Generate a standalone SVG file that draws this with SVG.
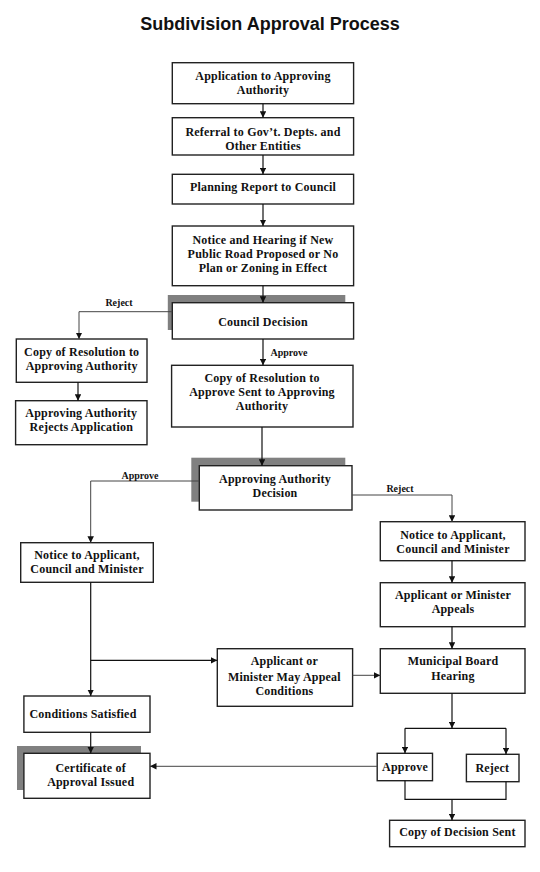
<svg xmlns="http://www.w3.org/2000/svg" width="540" height="872" viewBox="0 0 540 872">
<defs>
<marker id="ah" viewBox="0 0 10 10" refX="10" refY="5" markerWidth="6.5" markerHeight="6.5" markerUnits="userSpaceOnUse" orient="auto">
<path d="M0,0 L10,5 L0,10 z" fill="#111"/>
</marker>
<style>
.box{fill:#fff;stroke:#222;stroke-width:1.4}
.sh{fill:#808080;stroke:none}
.t{font-family:"Liberation Serif","Times New Roman",serif;font-weight:bold;font-size:12px;letter-spacing:0.2px;fill:#111;text-anchor:middle}
.lb{font-family:"Liberation Serif","Times New Roman",serif;font-weight:bold;font-size:10px;fill:#111;text-anchor:middle}
.c{fill:none;stroke:#111;stroke-width:1.2}
.d{fill:none;stroke:#444;stroke-width:1}
.title{font-family:"Liberation Sans",Arial,sans-serif;font-weight:bold;font-size:18px;fill:#111;text-anchor:middle}
</style>
</defs>
<rect width="540" height="872" fill="#fff"/>
<text class="title" x="270" y="30">Subdivision Approval Process</text>

<g id="n1"><rect class="box" x="172.3" y="62.7" width="181.3" height="41"/>
<text class="t" x="263" y="80">Application to Approving</text><text class="t" x="263" y="93.5">Authority</text></g>
<g id="n2"><rect class="box" x="172.3" y="117.7" width="181.3" height="37.3"/>
<text class="t" x="263" y="135.5">Referral to Gov’t. Depts. and</text><text class="t" x="263" y="149.5">Other Entities</text></g>
<g id="n3"><rect class="box" x="172.3" y="174.3" width="181.3" height="29.7"/>
<text class="t" x="263" y="190.5">Planning Report to Council</text></g>
<g id="n4"><rect class="box" x="172.3" y="226" width="181.3" height="59.7"/>
<text class="t" x="263" y="243.5">Notice and Hearing if New</text><text class="t" x="263" y="258">Public Road Proposed or No</text><text class="t" x="263" y="272">Plan or Zoning in Effect</text></g>
<g id="n5"><rect class="sh" x="167.8" y="295" width="177.5" height="35"/><rect class="box" x="172.3" y="302.7" width="181.3" height="36.3"/>
<text class="t" x="263" y="326">Council Decision</text></g>
<g id="n6"><rect class="box" x="16.3" y="339" width="130.7" height="43.3"/>
<text class="t" x="81.7" y="355.5">Copy of Resolution to</text><text class="t" x="81.7" y="369.5">Approving Authority</text></g>
<g id="n7"><rect class="box" x="15.6" y="400.7" width="131.4" height="44"/>
<text class="t" x="81.3" y="417">Approving Authority</text><text class="t" x="81.3" y="431">Rejects Application</text></g>
<g id="n8"><rect class="box" x="171.6" y="365.3" width="181.4" height="61.7"/>
<text class="t" x="262" y="382">Copy of Resolution to</text><text class="t" x="262" y="396">Approve Sent to Approving</text><text class="t" x="262" y="410">Authority</text></g>
<g id="n9"><rect class="sh" x="191.3" y="457.7" width="154" height="44"/><rect class="box" x="199.3" y="465.7" width="152.7" height="44.3"/>
<text class="t" x="275" y="483">Approving Authority</text><text class="t" x="275" y="496.5">Decision</text></g>
<g id="n10"><rect class="box" x="380.3" y="521.7" width="144.7" height="39"/>
<text class="t" x="453" y="538.5">Notice to Applicant,</text><text class="t" x="453" y="552.5">Council and Minister</text></g>
<g id="n11"><rect class="box" x="20.7" y="542.7" width="132.6" height="39.6"/>
<text class="t" x="87" y="559">Notice to Applicant,</text><text class="t" x="87" y="573">Council and Minister</text></g>
<g id="n12"><rect class="box" x="380.3" y="582.7" width="144.7" height="44"/>
<text class="t" x="453" y="599">Applicant or Minister</text><text class="t" x="453" y="613">Appeals</text></g>
<g id="n13"><rect class="box" x="217.3" y="648.7" width="135.3" height="57.6"/>
<text class="t" x="284.4" y="665">Applicant or</text><text class="t" x="284.4" y="680.5">Minister May Appeal</text><text class="t" x="284.4" y="694.5">Conditions</text></g>
<g id="n14"><rect class="box" x="380.3" y="648.7" width="144.7" height="44.6"/>
<text class="t" x="453" y="665">Municipal Board</text><text class="t" x="453" y="680">Hearing</text></g>
<g id="n15"><rect class="box" x="23.9" y="696" width="126.1" height="36.3"/>
<text class="t" x="83" y="718">Conditions Satisfied</text></g>
<g id="n16"><rect class="sh" x="17" y="746" width="124" height="44"/><rect class="box" x="23.9" y="753.3" width="126.1" height="45"/>
<text class="t" x="90.7" y="771.5">Certificate of</text><text class="t" x="90.7" y="785.5">Approval Issued</text></g>
<g id="n17"><rect class="box" x="377.2" y="753.3" width="55.3" height="27.4"/>
<text class="t" x="405" y="771">Approve</text></g>
<g id="n18"><rect class="box" x="466.4" y="754.3" width="52.6" height="27.4"/>
<text class="t" x="492.4" y="772">Reject</text></g>
<g id="n19"><rect class="box" x="389.6" y="820.3" width="135.4" height="26.4"/>
<text class="t" x="457.4" y="836">Copy of Decision Sent</text></g>

<g id="connectors">
<path class="c" d="M263,103.7 V117.7" marker-end="url(#ah)"/>
<path class="c" d="M263,155 V174.3" marker-end="url(#ah)"/>
<path class="c" d="M263,204 V226" marker-end="url(#ah)"/>
<path class="c" d="M263,285.7 V302.7" marker-end="url(#ah)"/>
<path class="d" d="M172.3,311.7 H79 V339" marker-end="url(#ah)"/>
<path class="c" d="M78,382.3 V400.7" marker-end="url(#ah)"/>
<path class="c" d="M263,339 V365.3" marker-end="url(#ah)"/>
<path class="c" d="M262,427 V465.7" marker-end="url(#ah)"/>
<path class="d" d="M199.3,481 H90.7 V542.7" marker-end="url(#ah)"/>
<path class="d" d="M352,495 H452 V521.7" marker-end="url(#ah)"/>
<path class="c" d="M452,560.7 V582.7" marker-end="url(#ah)"/>
<path class="c" d="M452,626.7 V648.7" marker-end="url(#ah)"/>
<path class="c" d="M90.7,582.3 V696" marker-end="url(#ah)"/>
<path class="c" d="M90.7,660.3 H217.3" marker-end="url(#ah)"/>
<path class="d" d="M352.6,675.3 H380.3" marker-end="url(#ah)"/>
<path class="c" d="M90.7,732.3 V753.3" marker-end="url(#ah)"/>
<path class="c" d="M452,693.3 V728.3" marker-end="url(#ah)"/>
<path class="c" d="M405,728.3 H506"/>
<path class="c" d="M405,728.3 V753.3" marker-end="url(#ah)"/>
<path class="c" d="M506,728.3 V754.3" marker-end="url(#ah)"/>
<path class="d" d="M377.2,766.3 H150" marker-end="url(#ah)"/>
<path class="c" d="M405,780.7 V799.3 H506 V781.7"/>
<path class="c" d="M452,799.3 V820.3" marker-end="url(#ah)"/>
<text class="lb" x="119" y="305.5">Reject</text>
<text class="lb" x="289" y="355.5">Approve</text>
<text class="lb" x="140" y="479">Approve</text>
<text class="lb" x="400" y="491.5">Reject</text>
</g>
</svg>
